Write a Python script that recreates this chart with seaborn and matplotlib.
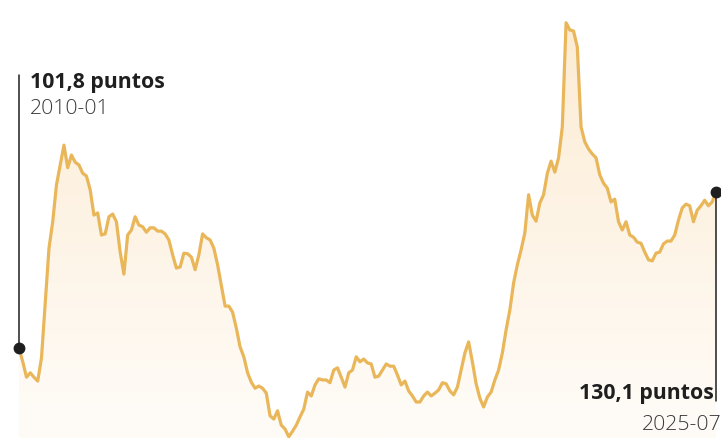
import numpy as np
import pandas as pd
import matplotlib
matplotlib.use("Agg")
import matplotlib.pyplot as plt
import seaborn as sns

# Monthly index values, 2010-01 .. 2025-07
values = [
    101.8, 99.3, 96.5, 97.3, 96.5, 95.8, 100.0, 110.1, 119.9, 124.7,
    131.4, 135.0, 138.6, 134.5, 136.8, 135.5, 135.0, 133.5, 133.0, 130.5,
    125.9, 126.3, 122.3, 122.5, 125.6, 126.1, 124.7, 119.2, 115.2, 122.3,
    123.2, 125.6, 124.1, 123.8, 122.8, 123.6, 123.6, 123.0, 123.0, 122.5,
    121.4, 118.7, 116.3, 116.5, 119.0, 118.9, 118.3, 116.0, 118.7, 122.5,
    121.8, 121.4, 119.9, 116.9, 113.2, 109.4, 109.4, 108.3, 105.4, 102.0,
    100.2, 97.3, 95.6, 94.5, 94.9, 94.5, 93.6, 89.5, 88.9, 90.4,
    87.8, 87.1, 85.7, 86.7, 87.8, 89.3, 90.7, 93.8, 93.1, 95.1,
    96.2, 96.0, 96.0, 95.5, 97.8, 98.2, 96.5, 94.7, 97.3, 97.8,
    100.2, 99.3, 99.8, 99.1, 98.9, 96.5, 96.7, 97.8, 98.9, 98.5,
    98.5, 96.9, 95.1, 95.8, 94.0, 93.1, 92.0, 92.0, 93.1, 93.8,
    93.1, 93.6, 94.2, 95.5, 95.3, 94.0, 93.3, 94.7, 97.8, 100.9,
    102.9, 99.3, 95.3, 92.7, 91.1, 92.9, 93.8, 96.0, 97.8, 100.9,
    105.1, 108.7, 113.6, 116.9, 119.6, 122.7, 129.6, 125.9, 124.8, 128.1,
    129.6, 133.5, 135.7, 133.7, 136.3, 141.9, 160.8, 159.5, 159.3, 156.4,
    141.9, 139.2, 137.9, 137.0, 136.3, 133.2, 131.7, 130.8, 128.3, 128.8,
    124.7, 123.2, 124.7, 122.3, 121.9, 121.0, 120.8, 119.2, 117.8, 117.6,
    119.0, 119.2, 120.7, 121.2, 121.2, 122.3, 125.0, 127.2, 127.9, 127.6,
    124.7, 126.8, 127.6, 128.6, 127.6, 128.3, 130.1,
]
dates = pd.period_range("2010-01", periods=len(values), freq="M").strftime("%Y-%m").tolist()

start_label = "101,8 puntos"
start_date = "2010-01"
end_label = "130,1 puntos"
end_date = "2025-07"

df = pd.DataFrame({"idx": np.arange(len(values)), "fecha": dates, "valor": values})

sns.set_theme(style="white")
plt.rcParams["font.family"] = ["Open Sans", "DejaVu Sans"]

fig = plt.figure(figsize=(7.21, 4.38), dpi=100)
ax = fig.add_axes([0, 0, 1, 1])
ax.set_axis_off()

line_color = "#e9b75a"
ymin, ymax = 85.47, 164.93
xmin, xmax = -5.07, 187.35

# gradient fill
poly = ax.fill_between(df["idx"], df["valor"], ymin, facecolor="none", edgecolor="none")
grad = np.linspace(0, 1, 256).reshape(-1, 1)
top = np.array([252, 235, 210]) / 255
bot = np.array([255, 252, 248]) / 255
img = top * (1 - grad)[..., None] + bot * grad[..., None]
img = img.reshape(256, 1, 3)
im = ax.imshow(img, extent=[xmin, xmax, ymin, ymax], aspect="auto", origin="upper", zorder=1)
path = poly.get_paths()[0]
im.set_clip_path(path, transform=ax.transData)

sns.lineplot(data=df, x="idx", y="valor", ax=ax, color=line_color, linewidth=2.3, zorder=3)

ax.set_xlim(xmin, xmax)
ax.set_ylim(ymin, ymax)

dark = "#1f1f1f"
gray = "#3a3a3a"
i0, v0 = 0, values[0]
i1, v1 = len(values) - 1, values[-1]
# start marker & line
ax.plot([i0, i0], [v0, 151.3], color=dark, lw=1.1, zorder=4)
ax.plot([i0], [v0], "o", color=dark, ms=7.5, zorder=5)
ax.plot([i1, i1], [v1, 92.1], color=dark, lw=1.1, zorder=4)
ax.plot([i1], [v1], "o", color=dark, ms=7.5, zorder=5)

fs = 15.3
ax.text(2.9, 149.0, start_label, fontsize=fs, fontweight="bold", color=dark,
        ha="left", va="baseline", zorder=6)
ax.text(2.9, 144.3, start_date, fontsize=fs, fontweight="light", color=gray,
        ha="left", va="baseline", zorder=6)
ax.text(185.3, 92.6, end_label, fontsize=fs, fontweight="bold", color=dark,
        ha="right", va="baseline", zorder=6)
ax.text(187.6, 86.9, end_date, fontsize=fs, fontweight="light", color=gray,
        ha="right", va="baseline", zorder=6)

fig.savefig("out.png", dpi=100)
